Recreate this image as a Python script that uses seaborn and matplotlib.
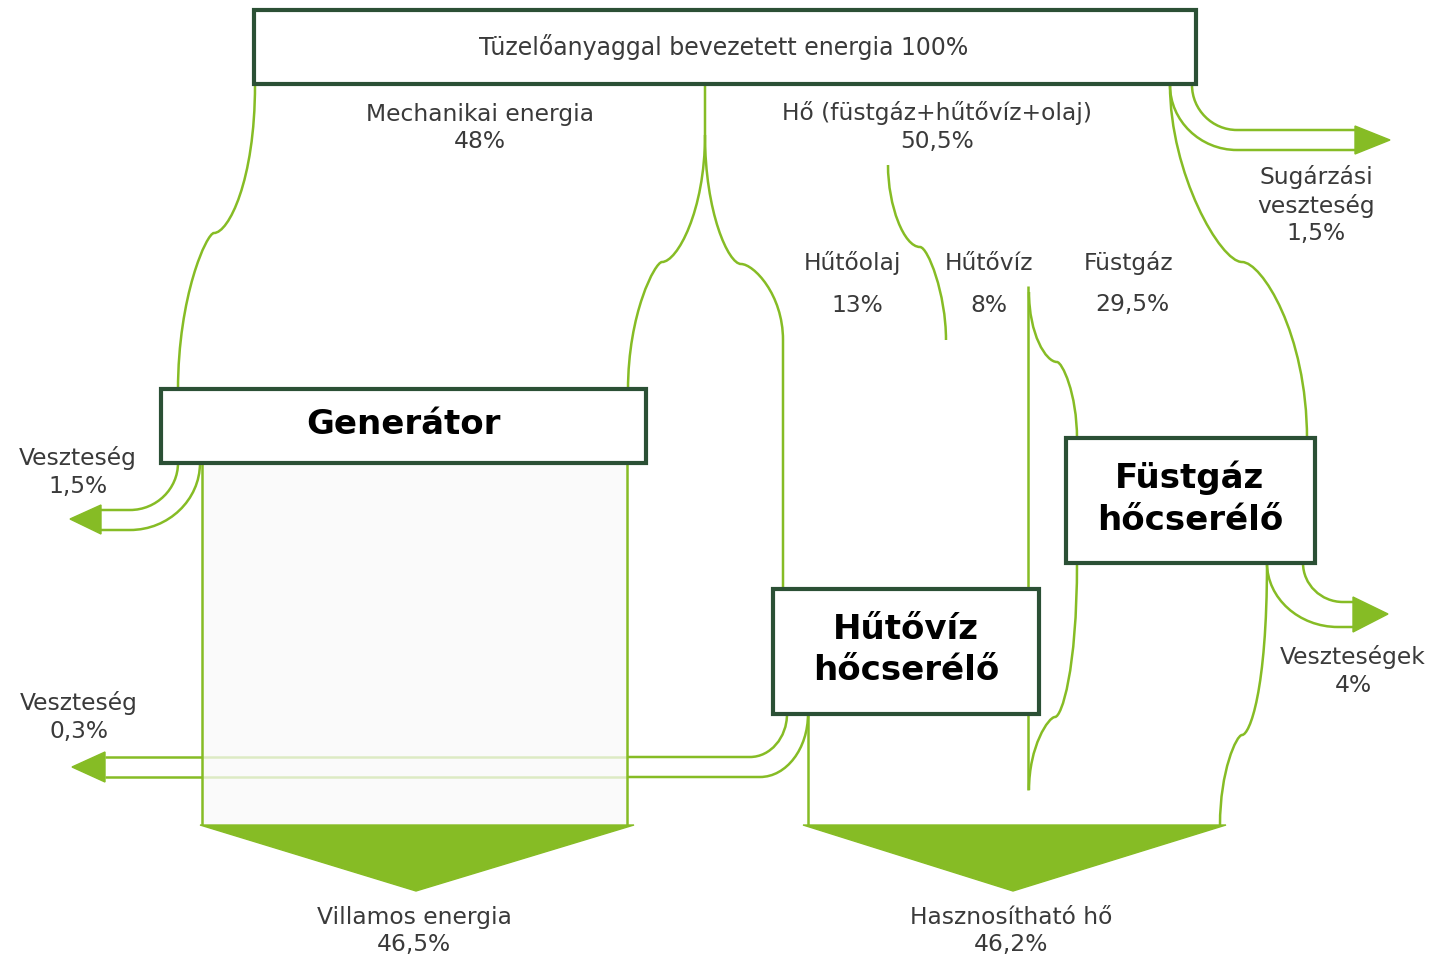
import numpy as np
import seaborn as sns
import matplotlib.pyplot as plt
from matplotlib.path import Path
from matplotlib.patches import PathPatch, Rectangle, Polygon

# energy shares (percent) shown on the diagram
input_label = 'Tüzelőanyaggal bevezetett energia'
input_value = 100
mech_label, mech_value = 'Mechanikai energia', 48
heat_label, heat_value = 'Hő (füstgáz+hűtővíz+olaj)', 50.5
rad_label, rad_value = 'Sugárzási\nveszteség', 1.5
split_labels = ['Hűtőolaj', 'Hűtővíz', 'Füstgáz']
split_values = [13, 8, 29.5]
gen_loss_label, gen_loss_value = 'Veszteség', 1.5
hx_loss_label, hx_loss_value = 'Veszteség', 0.3
flue_loss_label, flue_loss_value = 'Veszteségek', 4
out_labels = ['Villamos energia', 'Hasznosítható hő']
out_values = [46.5, 46.2]
box_labels = ['Generátor', 'Hűtővíz\nhőcserélő', 'Füstgáz\nhőcserélő']

GREEN = '#86bc25'
BOX = '#2b5035'
TXT = '#3a3a3a'


def pct(v):
    return f'{v:g}'.replace('.', ',') + '%'


sns.set_theme(style='white')
plt.rcParams['font.family'] = ['DejaVu Sans']

fig = plt.figure(figsize=(14.32, 9.57), dpi=100)
ax = fig.add_axes([0, 0, 1, 1])
ax.set_xlim(0, 1432)
ax.set_ylim(957, 0)
ax.axis('off')


# --- path helpers (pixel layout, y grows downwards) ---
def vh(p0, p1, k1=0.55, k2=0.55):
    # vertical tangent at p0, horizontal at p1
    (x0, y0), (x1, y1) = p0, p1
    return [(x0, y0 + k1 * (y1 - y0)), (x1 + k2 * (x0 - x1), y1), (x1, y1)], [Path.CURVE4] * 3


def hv(p0, p1, k1=0.25, k2=0.6):
    # horizontal tangent at p0, vertical at p1
    (x0, y0), (x1, y1) = p0, p1
    return [(x0 + k1 * (x1 - x0), y0), (x1, y1 - k2 * (y1 - y0)), (x1, y1)], [Path.CURVE4] * 3


def ln(p1):
    return [p1], [Path.LINETO]


def draw(start, *segs, color=GREEN, lw=1.8, alpha=1.0, z=2):
    verts, codes = [start], [Path.MOVETO]
    for v, c in segs:
        verts += v
        codes += c
    ax.add_patch(PathPatch(Path(verts, codes), fill=False, ec=color, lw=lw,
                           alpha=alpha, zorder=z, capstyle='butt'))


def tri(pts, z=3):
    ax.add_patch(Polygon(pts, closed=True, fc=GREEN, ec=GREEN, lw=1, zorder=z))


def box(x0, y0, x1, y1):
    ax.add_patch(Rectangle((x0, y0), x1 - x0, y1 - y0, fc='white', ec=BOX,
                           lw=3, zorder=5))


# generator output band background
ax.add_patch(Rectangle((202, 463), 425, 362, fc='#fafafa', ec='none', zorder=1))

# mechanical energy band
draw((255, 85), vh((255, 85), (214, 233), 0.65, 0.35), hv((214, 233), (178, 390), 0.2, 0.6))
draw((705, 85), ln((705, 135)), vh((705, 135), (662, 262), 0.6, 0.35),
     hv((662, 262), (628, 390), 0.2, 0.6))
# heat band
draw((705, 135), vh((705, 135), (741, 264), 0.6, 0.35), hv((741, 264), (783, 340), 0.3, 0.6),
     ln((783, 590)))
draw((888, 165), vh((888, 165), (920, 247), 0.5, 0.5), hv((920, 247), (946, 340), 0.3, 0.5))
draw((1028, 286), ln((1028, 790)))
draw((1029, 292), vh((1029, 292), (1057, 362), 0.6, 0.4), hv((1057, 362), (1077, 439), 0.25, 0.6))
draw((1170, 85), vh((1170, 85), (1242, 262), 0.5, 0.3), hv((1242, 262), (1307, 439), 0.3, 0.6))

# radiation loss arrow
draw((1192, 85), vh((1192, 85), (1237, 130)), ln((1355, 130)))
draw((1170, 85), vh((1170, 85), (1237, 150)), ln((1355, 150)))
tri([(1355, 126), (1355, 154), (1390, 140)])

# generator loss arrow
draw((178, 463), vh((178, 463), (130, 510)), ln((101, 510)))
draw((200, 463), vh((200, 463), (130, 530)), ln((101, 530)))
tri([(101, 505), (101, 534), (70, 519)])

# generator output
draw((202, 463), ln((202, 825)))
draw((627, 463), ln((627, 825)))
tri([(200, 825), (634, 825), (416, 891)])

# cooling-water exchanger loss arrow (passes behind generator output)
draw((787, 714), vh((787, 714), (750, 757)), ln((627, 757)))
draw((808, 714), vh((808, 714), (760, 777)), ln((627, 777)))
draw((627, 757), ln((202, 757)), alpha=0.25)
draw((627, 777), ln((202, 777)), alpha=0.25)
draw((202, 757), ln((105, 757)))
draw((202, 777), ln((105, 777)))
tri([(105, 752), (105, 782), (72, 767)])

# useful heat
draw((808, 714), ln((808, 825)))
draw((1077, 563), vh((1077, 563), (1055, 717), 0.7, 0.3), hv((1055, 717), (1029, 790), 0.25, 0.6))
draw((1267, 563), vh((1267, 563), (1242, 735), 0.75, 0.3), hv((1242, 735), (1220, 825), 0.25, 0.6))
tri([(803, 825), (1226, 825), (1013, 891)])

# flue-gas exchanger loss arrow
draw((1303, 563), vh((1303, 563), (1343, 602)), ln((1353, 602)))
draw((1267, 563), vh((1267, 563), (1338, 627)), ln((1353, 627)))
tri([(1353, 597), (1353, 632), (1388, 614)])

# boxes
box(254, 10, 1196, 84)
box(161, 389, 646, 463)
box(773, 589, 1039, 714)
box(1066, 438, 1315, 563)

# texts
fs = 16.8
ls = 1.25
ax.text(724, 47, f'{input_label} {pct(input_value)}', ha='center', va='center',
        fontsize=17, color=TXT, zorder=6)
ax.text(480, 128, f'{mech_label}\n{pct(mech_value)}', ha='center', va='center',
        fontsize=fs, color=TXT, linespacing=ls)
ax.text(937, 127, f'{heat_label}\n{pct(heat_value)}', ha='center', va='center',
        fontsize=fs, color=TXT, linespacing=ls)
ax.text(1316, 205, f'{rad_label}\n{pct(rad_value)}', ha='center', va='center',
        fontsize=fs, color=TXT, linespacing=ls)
for name, val, xn, xv in zip(split_labels, split_values, [852, 989, 1129], [857, 989, 1132]):
    ax.text(xn, 263, name, ha='center', va='center', fontsize=fs, color=TXT)
    ax.text(xv, 305, pct(val), ha='center', va='center', fontsize=fs, color=TXT)
ax.text(78, 472, f'{gen_loss_label}\n{pct(gen_loss_value)}', ha='center', va='center',
        fontsize=fs, color=TXT, linespacing=ls)
ax.text(79, 717, f'{hx_loss_label}\n{pct(hx_loss_value)}', ha='center', va='center',
        fontsize=fs, color=TXT, linespacing=ls)
ax.text(1353, 671, f'{flue_loss_label}\n{pct(flue_loss_value)}', ha='center', va='center',
        fontsize=fs, color=TXT, linespacing=ls)
for name, val, x in zip(out_labels, out_values, [414, 1011]):
    ax.text(x, 931, f'{name}\n{pct(val)}', ha='center', va='center',
            fontsize=fs, color=TXT, linespacing=ls)

for name, (x, y) in zip(box_labels, [(403, 425), (906, 650), (1190, 499)]):
    ax.text(x, y, name, ha='center', va='center', fontsize=24.5, fontweight='bold',
            color='black', linespacing=1.33, zorder=6)

fig.savefig('out.png', dpi=100)
